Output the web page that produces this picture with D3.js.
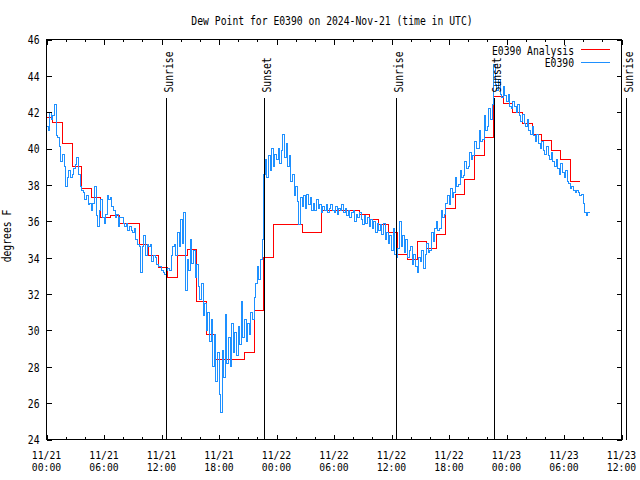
<!DOCTYPE html>
<html><head><meta charset="utf-8">
<script src="https://cdn.jsdelivr.net/npm/d3@7"></script>
<style>
body{margin:0;background:#fff}
text{font-family:"DejaVu Sans Mono","Liberation Mono",monospace;font-size:12px;fill:#000}
</style>
</head><body>
<svg id="chart" width="640" height="480"></svg>
<script>
// ---------- data ----------
const titleText = "Dew Point for E0390 on 2024-Nov-21 (time in UTC)";
const yLabel = "degrees F";
const seriesNames = ["E0390 Analysis", "E0390"];
const yTicks = [24, 26, 28, 30, 32, 34, 36, 38, 40, 42, 44, 46];
const xTickLabels = [
  ["11/21","00:00"],["11/21","06:00"],["11/21","12:00"],["11/21","18:00"],
  ["11/22","00:00"],["11/22","06:00"],["11/22","12:00"],["11/22","18:00"],
  ["11/23","00:00"],["11/23","06:00"],["11/23","12:00"]
];
const startTime = Date.UTC(2024, 10, 21, 0, 0);
const endTime = Date.UTC(2024, 10, 23, 12, 0);
const sunEvents = [
  {time: Date.UTC(2024,10,21,12,26), label: "Sunrise"},
  {time: Date.UTC(2024,10,21,22,42), label: "Sunset"},
  {time: Date.UTC(2024,10,22,12,28), label: "Sunrise"},
  {time: Date.UTC(2024,10,22,22,41), label: "Sunset"},
  {time: Date.UTC(2024,10,23,12,29), label: "Sunrise"}
];
// Observations: every 10 minutes from 11/21 00:00 UTC (one row per hour)
const obsValues = [
  41.2,41.0,42.0,41.6,41.8,42.4,  40.7,40.6,40.1,39.3,39.7,39.0,  37.9,38.4,38.8,38.4,38.6,38.9,
  39.1,39.5,38.6,37.9,37.7,37.6,  37.2,37.4,36.9,37.0,36.6,37.0,  37.9,36.3,35.7,36.6,37.2,36.2,
  35.9,36.4,37.4,37.2,37.3,36.8,  36.6,36.2,36.4,35.7,36.2,36.2,  35.9,35.7,35.9,35.5,35.7,35.5,
  35.4,35.6,35.0,34.7,34.6,33.2,  34.6,35.2,34.1,34.7,34.6,34.7,  33.8,34.1,34.0,33.6,33.5,33.5,
  33.3,33.2,33.1,33.3,33.4,33.3,  34.1,34.6,34.7,34.1,35.4,34.6,  36.1,34.8,36.5,32.2,33.9,33.3,
  35.0,33.7,34.4,32.9,33.6,32.4,  31.7,32.6,30.8,31.5,30.0,31.0,  29.4,30.6,28.0,29.8,27.2,28.8,
  26.5,25.5,28.9,27.4,30.9,28.2,  29.6,28.0,30.4,28.8,29.9,28.6,  30.2,29.2,31.6,29.6,30.6,29.4,
  30.4,29.8,31.0,30.6,31.8,32.6,  33.5,32.8,33.9,35.0,38.6,39.4,  38.4,39.6,38.8,40.0,39.0,39.7,
  39.4,40.0,39.2,39.9,40.8,39.5,  40.3,39.0,39.6,38.2,38.6,37.4,  37.9,37.1,35.8,37.3,36.8,37.4,
  36.7,37.5,36.9,37.3,36.6,37.0,  36.6,37.2,36.7,36.9,36.5,36.8,  36.6,36.9,36.5,36.7,36.9,36.6,
  36.5,36.8,36.4,36.7,36.6,36.9,  36.5,36.7,36.3,36.6,36.2,36.5,  36.6,36.0,36.4,36.2,36.5,36.1,
  35.8,36.3,35.9,36.2,35.7,36.1,  35.6,36.0,35.4,35.9,35.5,35.8,  35.3,35.9,35.0,35.4,34.8,35.2,
  34.4,35.6,34.2,34.0,34.5,36.0,  34.6,35.2,34.3,35.0,34.0,34.4,  34.6,33.6,34.2,33.5,33.2,34.0,
  33.8,34.4,33.4,34.2,34.8,34.3,  34.4,35.4,34.9,35.6,36.0,35.5,  35.6,36.6,36.2,36.4,37.0,37.4,
  36.9,37.8,37.3,37.6,38.4,37.9,  38.0,38.8,38.4,38.5,39.3,38.9,  39.0,39.8,39.4,39.6,40.4,40.0,
  40.0,41.0,40.4,40.5,41.8,41.0,  41.2,42.2,41.6,42.4,44.6,43.5,  43.2,43.8,43.0,42.8,43.4,42.9,
  42.6,43.0,42.3,42.2,42.6,42.3,  42.0,42.4,41.8,41.5,41.9,41.4,  41.2,41.6,41.0,40.8,41.2,40.7,
  40.4,40.8,40.3,40.0,40.4,39.9,  39.7,40.1,39.6,39.4,39.8,39.3,  39.0,39.4,38.9,38.6,39.2,38.7,
  38.4,38.8,38.2,38.1,37.8,37.9,  37.7,37.6,37.7,37.6,37.4,37.5,  37.0,36.5,36.3,36.5,36.5
];
// Analysis: hourly at HH:40 starting 11/20 23:40 UTC
const analysisValues = [
  41.7,41.45,40.3,39.0,37.8,37.3,36.2,36.3,35.88,35.9,
  34.7,34.1,33.45,32.9,34.1,34.45,31.6,29.8,28.4,28.4,
  28.4,28.8,31.1,34.0,35.8,35.8,35.8,35.4,35.4,36.6,
  36.6,36.6,36.6,36.4,36.1,35.8,35.4,34.2,33.9,34.9,
  34.5,35.3,36.7,37.5,38.3,39.6,40.6,42.85,42.5,42.0,
  41.4,40.8,40.45,39.9,39.4,38.2,38.2
];
const analysisColor = "#ff0000";
const obsColor = "#1e90ff";

// ---------- chart ----------
const CHAR_W = 5.86;
const svg = d3.select("#chart");
const L = 46.5, R = 621.5, T = 39.5, B = 439.5;
const x = d3.scaleUtc().domain([new Date(startTime), new Date(endTime)]).range([L, R]);
const y = d3.scaleLinear().domain([24, 46]).range([B, T]);

function fitText(sel){
  sel.each(function(){
    const s = d3.select(this).text();
    d3.select(this).attr("textLength", s.length * CHAR_W).attr("lengthAdjust", "spacingAndGlyphs");
  });
  return sel;
}

const HOUR = 3600 * 1000;
const obsData = obsValues.map((v, i) => ({t: new Date(startTime + i * 10 * 60 * 1000), v}));
const anaData = analysisValues.map((v, i) => ({t: new Date(startTime - 20 * 60 * 1000 + i * HOUR), v}));

svg.append("clipPath").attr("id", "clip").append("rect")
  .attr("x", L).attr("y", T).attr("width", R - L).attr("height", B - T);

const line = d3.line().x(d => x(d.t)).y(d => y(d.v)).curve(d3.curveStepAfter);

const plot = svg.append("g").attr("clip-path", "url(#clip)");
plot.append("path").datum(anaData).attr("d", line)
  .attr("fill", "none").attr("stroke", analysisColor).attr("stroke-width", 1).attr("shape-rendering", "crispEdges");
plot.append("path").datum(obsData).attr("d", line)
  .attr("fill", "none").attr("stroke", obsColor).attr("stroke-width", 1).attr("shape-rendering", "crispEdges");

// axes
const majorTicks = d3.range(xTickLabels.length).map(i => new Date(startTime + i * 6 * HOUR));
const minorTicks = d3.range(0, 61, 2).filter(h => h % 6 !== 0).map(h => new Date(startTime + h * HOUR));

function styleAxis(g){
  g.select(".domain").remove();
  g.selectAll("line").attr("stroke", "#000").attr("shape-rendering", "crispEdges");
}
svg.append("g").attr("transform", `translate(0,${B})`)
  .call(d3.axisBottom(x).tickValues(majorTicks).tickSize(-5).tickFormat("")).call(styleAxis);
svg.append("g").attr("transform", `translate(0,${B})`)
  .call(d3.axisBottom(x).tickValues(minorTicks).tickSize(-2.5).tickFormat("")).call(styleAxis);
svg.append("g").attr("transform", `translate(0,${T})`)
  .call(d3.axisTop(x).tickValues(majorTicks).tickSize(-5).tickFormat("")).call(styleAxis);
svg.append("g").attr("transform", `translate(0,${T})`)
  .call(d3.axisTop(x).tickValues(minorTicks).tickSize(-2.5).tickFormat("")).call(styleAxis);

const yAxisL = svg.append("g").attr("transform", `translate(${L},0)`)
  .call(d3.axisLeft(y).tickValues(yTicks).tickSize(-5).tickPadding(7).tickFormat(d3.format("d")));
styleAxis(yAxisL);
yAxisL.selectAll("text").attr("font-family", null).attr("font-size", null).attr("dy", "0.36em").call(fitText);
svg.append("g").attr("transform", `translate(${R},0)`)
  .call(d3.axisRight(y).tickValues(yTicks).tickSize(-5).tickFormat("")).call(styleAxis);

// x tick labels (two lines in one text block)
const xl = svg.append("g").selectAll("text").data(majorTicks).join("text")
  .attr("transform", d => `translate(${x(d)},0)`)
  .attr("text-anchor", "middle").style("font-size", "11px");
xl.append("tspan").attr("x", 0).attr("y", 459).text((d, i) => xTickLabels[i][0]).call(fitText);
xl.append("tspan").attr("x", 0).attr("y", 471).text((d, i) => xTickLabels[i][1]).call(fitText);

// border
svg.append("rect").attr("x", L).attr("y", T).attr("width", R - L).attr("height", B - T)
  .attr("fill", "none").attr("stroke", "#000").attr("shape-rendering", "crispEdges");

// sun events
const sun = svg.append("g").selectAll("g").data(sunEvents).join("g");
sun.append("line")
  .attr("x1", d => Math.round(x(new Date(d.time))) + 0.5).attr("x2", d => Math.round(x(new Date(d.time))) + 0.5)
  .attr("y1", 98).attr("y2", B).attr("stroke", "#000").attr("shape-rendering", "crispEdges");
sun.append("text")
  .attr("transform", d => `translate(${Math.round(x(new Date(d.time))) + 6.5},92.5) rotate(-90)`)
  .attr("text-anchor", "start").text(d => d.label).call(fitText);

// title
svg.append("text").attr("x", 332).attr("y", 25).attr("text-anchor", "middle").text(titleText).call(fitText);
// y label
svg.append("text").attr("transform", "translate(11,236) rotate(-90)").attr("text-anchor", "middle").text(yLabel).call(fitText);

// legend
const legend = svg.append("g");
[[seriesNames[0], analysisColor, 49.5, 54.5], [seriesNames[1], obsColor, 62.5, 67]].forEach(([name, col, ly, ty]) => {
  legend.append("text").attr("x", 574).attr("y", ty).attr("text-anchor", "end").text(name).call(fitText);
  legend.append("line").attr("x1", 581).attr("x2", 610).attr("y1", ly).attr("y2", ly)
    .attr("stroke", col).attr("shape-rendering", "crispEdges");
});
</script>
</body></html>
